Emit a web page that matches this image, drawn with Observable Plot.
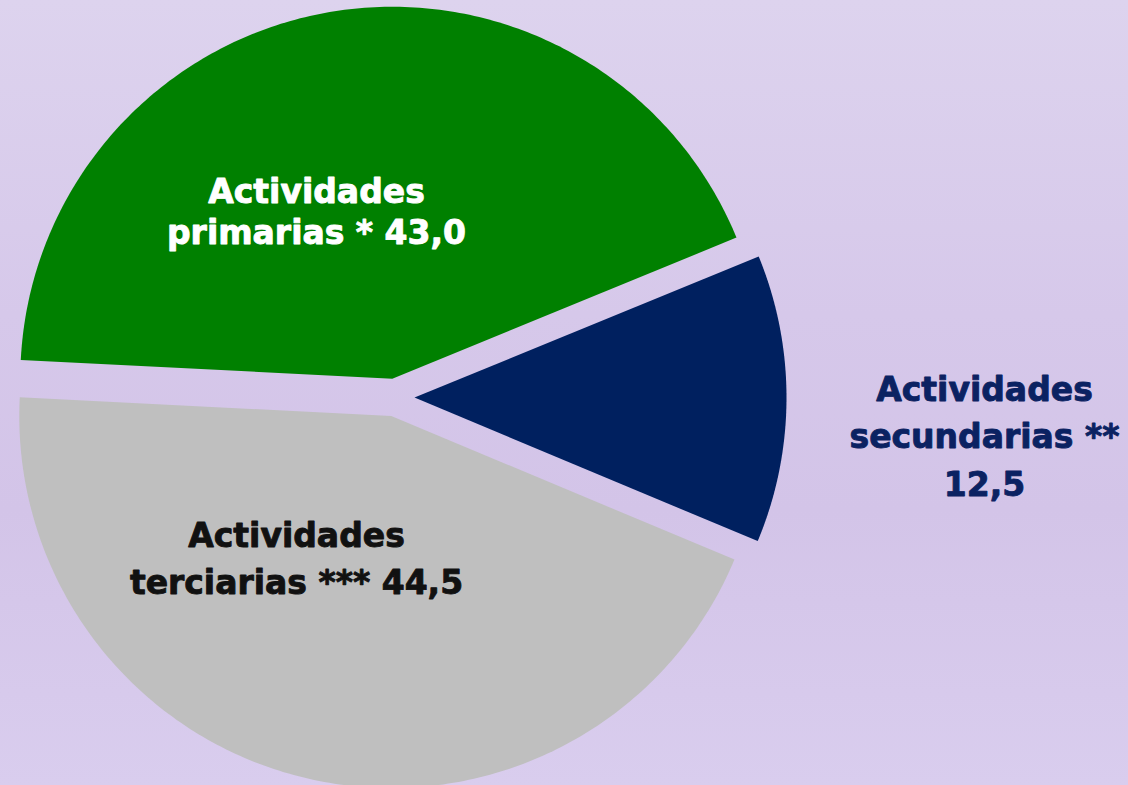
<!DOCTYPE html>
<html>
<head>
<meta charset="utf-8">
<script src="https://cdn.jsdelivr.net/npm/d3@7"></script>
<script src="https://cdn.jsdelivr.net/npm/@observablehq/plot@0.6"></script>
<style>
  html, body { margin: 0; padding: 0; }
  body {
    width: 1128px; height: 785px; overflow: hidden;
    background: linear-gradient(to bottom, #ddd3ee 0%, #d6c8ea 40%, #d3c4e8 65%, #d9cdee 100%);
  }
  #chart svg { display: block; }
</style>
</head>
<body>
<div id="chart"></div>
<script>
// ---- data ----
const categories = ["primarias", "secundarias", "terciarias"];
const values = [43.0, 12.5, 44.5];
const labelLines = [
  ["Actividades", "primarias * 43,0"],
  ["Actividades", "secundarias **", "12,5"],
  ["Actividades", "terciarias *** 44,5"]
];
const sliceColors = ["#008000", "#00205f", "#bfbfbf"];
const labelColors = ["#ffffff", "#0b2262", "#111111"];

// ---- layout ----
const W = 1128, H = 785;
const cx = 395, cy = 397, R = 372, explode = 19;
const startAngle = -87.1 * Math.PI / 180;
const labelLayout = [
  {x: 316, y: 202.5, step: 41},
  {x: 984, y: 400, step: 47.5},
  {x: 296, y: 546, step: 47.5}
];

const slices = categories.map((c, i) => ({cat: c, value: values[i]}));
const arcs = d3.pie().value(d => d.value).sort(null)
  .startAngle(startAngle).endAngle(startAngle + 2 * Math.PI)(slices);

// polygon points for each wedge (d3 angle: clockwise from 12 o'clock)
const pts = [];
arcs.forEach(a => {
  const mid = (a.startAngle + a.endAngle) / 2;
  const tx = cx + explode * Math.sin(mid), ty = cy - explode * Math.cos(mid);
  pts.push({cat: a.data.cat, x: tx, y: ty});
  const n = 200;
  for (let k = 0; k <= n; k++) {
    const t = a.startAngle + (a.endAngle - a.startAngle) * k / n;
    pts.push({cat: a.data.cat, x: tx + R * Math.sin(t), y: ty - R * Math.cos(t)});
  }
  pts.push({cat: a.data.cat, x: tx, y: ty});
});

const textRows = [];
categories.forEach((c, i) => {
  labelLines[i].forEach((line, j) => {
    textRows.push({cat: c, text: line, x: labelLayout[i].x, y: labelLayout[i].y + j * labelLayout[i].step, color: labelColors[i]});
  });
});

const plot = Plot.plot({
  width: W, height: H,
  margin: 0,
  x: {domain: [0, W], range: [0, W], axis: null},
  y: {domain: [0, H], range: [0, H], axis: null},
  color: {domain: categories, range: sliceColors},
  style: {background: "transparent", overflow: "visible"},
  marks: [
    Plot.line(pts, {x: "x", y: "y", z: "cat", fill: "cat", stroke: null, curve: "linear"}),
    Plot.text(textRows, {
      x: "x", y: "y", text: "text", fill: d => d.color,
      stroke: d => d.color, strokeWidth: 0.9,
      textAnchor: "middle", lineAnchor: "bottom",
      fontFamily: "DejaVu Sans", fontWeight: "bold", fontSize: 33
    })
  ]
});
document.getElementById("chart").appendChild(plot);
</script>
</body>
</html>
